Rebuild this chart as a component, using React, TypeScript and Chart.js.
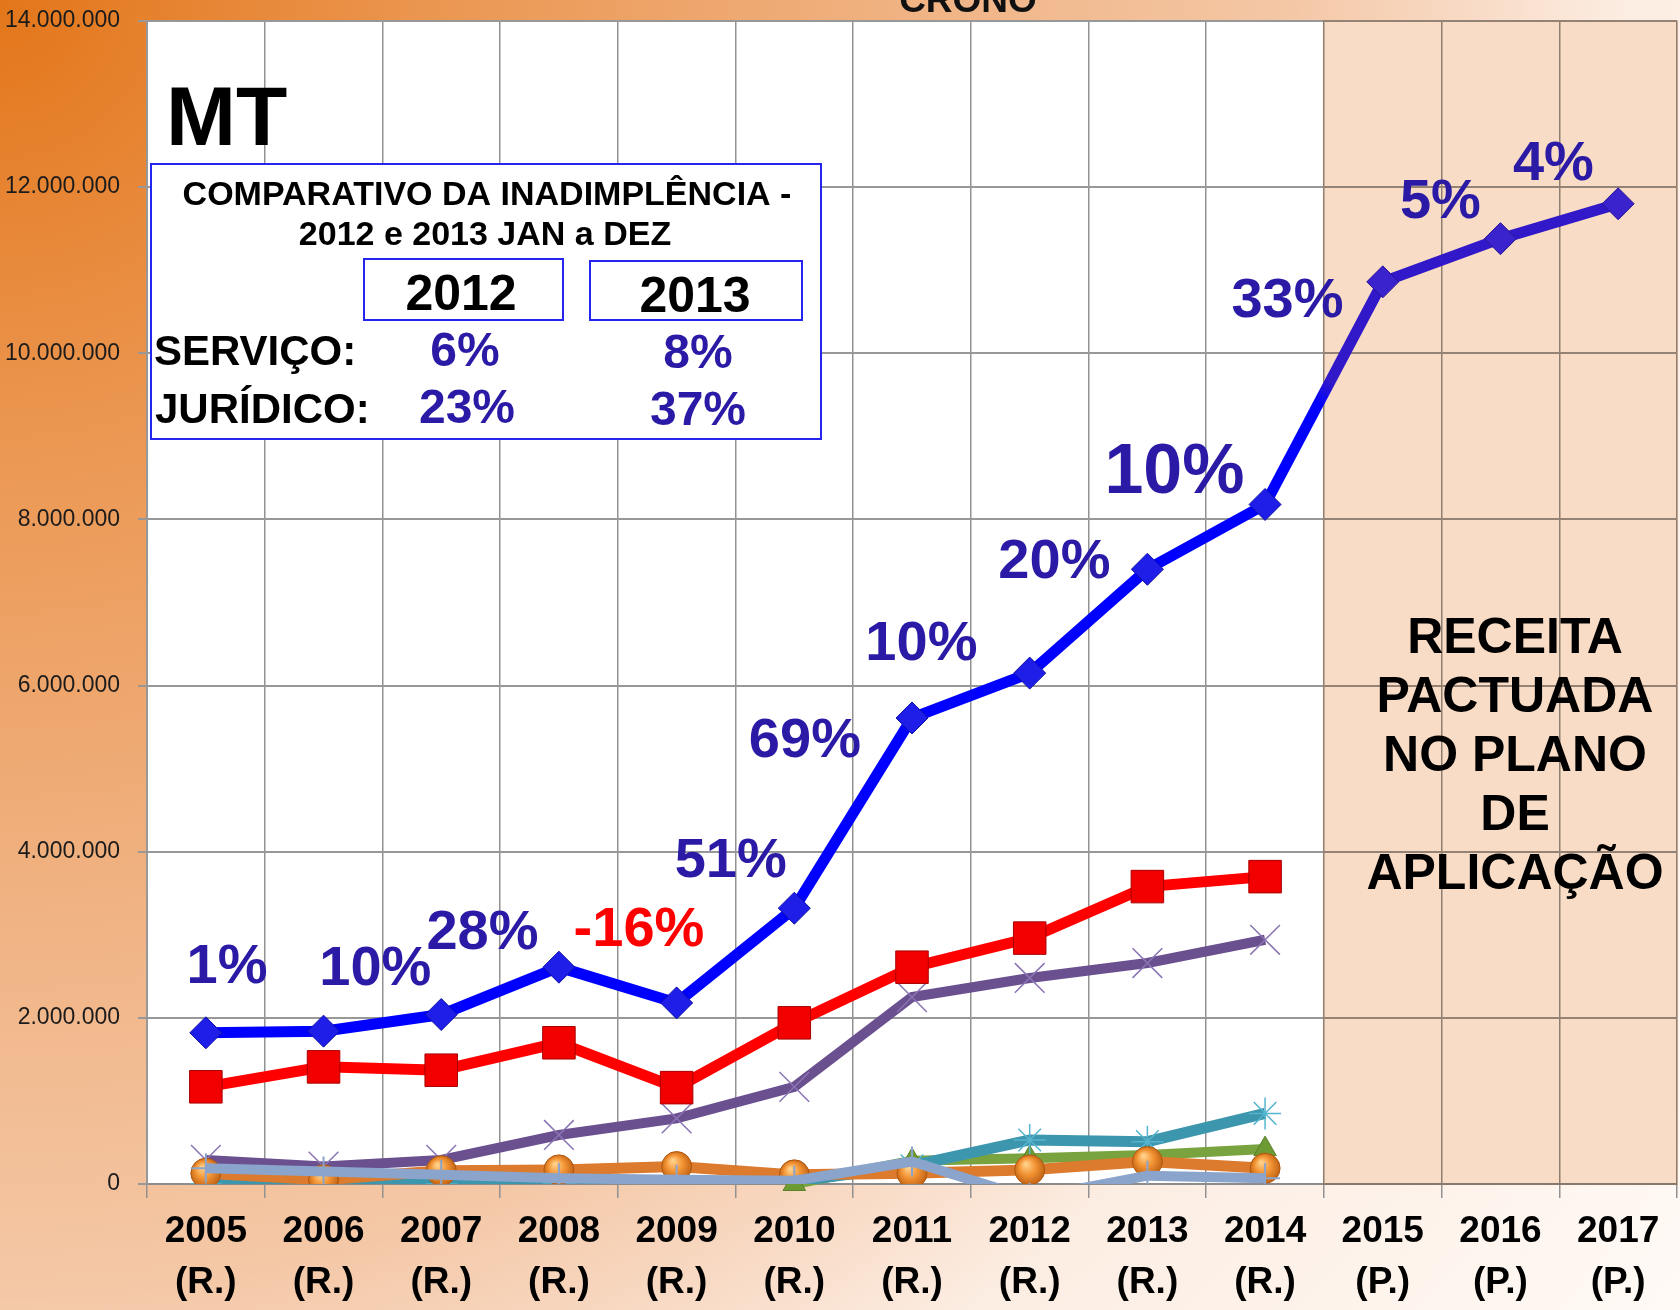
import React, { useEffect, useRef } from 'react';
import { Chart, registerables } from 'chart.js';

Chart.register(...registerables);

const FONT = '"Liberation Sans", Arial, Helvetica, sans-serif';

// ---- categories ----
const years = ['2005', '2006', '2007', '2008', '2009', '2010', '2011', '2012', '2013', '2014', '2015', '2016', '2017'];
const yearKinds = ['(R.)', '(R.)', '(R.)', '(R.)', '(R.)', '(R.)', '(R.)', '(R.)', '(R.)', '(R.)', '(P.)', '(P.)', '(P.)'];

// ---- y axis ----
const yMin = 0;
const yMax = 14000000;
const yStep = 2000000;

// ---- series values (R$) ----
const seriesBlue = [1820000, 1840000, 2040000, 2610000, 2180000, 3320000, 5610000, 6150000, 7400000, 8180000, 10860000, 11380000, 11800000];
const seriesRed = [1170000, 1410000, 1370000, 1700000, 1160000, 1940000, 2610000, 2960000, 3580000, 3700000, null, null, null];
const seriesGreen = [null, null, null, null, null, 0, 280000, 310000, 350000, 420000, null, null, null];
const seriesPurple = [290000, 210000, 290000, 590000, 790000, 1170000, 2250000, 2480000, 2660000, 2940000, null, null, null];
const seriesTeal = [0, 0, 0, 0, 0, 30000, 220000, 530000, 510000, 850000, null, null, null];
const seriesOrange = [130000, 50000, 160000, 170000, 210000, 110000, 130000, 170000, 270000, 190000, null, null, null];
const seriesLightBlue = [190000, 150000, 110000, 70000, 50000, 40000, 270000, -170000, 100000, 70000, null, null, null];

// ---- growth labels along the blue line (category position, value position) ----
const growthTexts = ['1%', '10%', '28%', '-16%', '51%', '69%', '10%', '20%', '10%', '33%', '5%', '4%'];
const growthAtIndex = [0.18, 1.44, 2.35, 3.68, 4.46, 5.09, 6.08, 7.21, 8.23, 9.19, 10.49, 11.45];
const growthAtValue = [2610000, 2580000, 3020000, 3050000, 3880000, 5330000, 6490000, 7480000, 8550000, 10620000, 11820000, 12270000];
const growthSizes = [56, 56, 56, 56, 56, 56, 56, 56, 70, 56, 56, 56];
const growthColors = ['#2A1AA6', '#2A1AA6', '#2A1AA6', '#FF0000', '#2A1AA6', '#2A1AA6', '#2A1AA6', '#2A1AA6', '#2A1AA6', '#2A1AA6', '#2A1AA6', '#2A1AA6'];

// ---- comparison box texts ----
const boxTitle = ['COMPARATIVO DA INADIMPLÊNCIA -', '2012 e 2013 JAN a DEZ'];
const boxYears = ['2012', '2013'];
const boxRows = ['SERVIÇO:', 'JURÍDICO:'];
const boxValues2012 = ['6%', '23%'];
const boxValues2013 = ['8%', '37%'];
const projectedNote = ['RECEITA', 'PACTUADA', 'NO PLANO', 'DE', 'APLICAÇÃO'];
const stateTitle = 'MT';
const topTitle = 'CRONO';
const firstProjectedIndex = 10;

function fmt(v: number) {
  return Math.round(v).toString().replace(/\B(?=(\d{3})+(?!\d))/g, '.');
}

function text(ctx: CanvasRenderingContext2D, s: string, x: number, y: number, font: string, color: string, align: CanvasTextAlign = 'center', baseline: CanvasTextBaseline = 'alphabetic') {
  ctx.font = font;
  ctx.fillStyle = color;
  ctx.textAlign = align;
  ctx.textBaseline = baseline;
  ctx.fillText(s, x, y);
}

const decorPlugin = {
  id: 'decor',
  beforeDraw(chart: any) {
    const { ctx, width, height, chartArea } = chart;
    ctx.save();
    const g = ctx.createRadialGradient(0, 0, 0, 0, 0, 2140);
    g.addColorStop(0, '#E3761A');
    g.addColorStop(0.2, '#EB9650');
    g.addColorStop(0.42, '#F0B282');
    g.addColorStop(0.6, '#F4C7A5');
    g.addColorStop(0.68, '#F8D9C3');
    g.addColorStop(0.76, '#FCEDE2');
    g.addColorStop(1, '#FFFAF6');
    ctx.fillStyle = g;
    ctx.fillRect(0, 0, width, height);
    ctx.fillStyle = '#FFFFFF';
    ctx.fillRect(chartArea.left, chartArea.top, chartArea.right - chartArea.left, chartArea.bottom - chartArea.top);
    ctx.restore();
  },
  beforeDatasetsDraw(chart: any) {
    const { ctx, chartArea, scales } = chart;
    const xs = scales.x;
    const x0 = (xs.getPixelForValue(firstProjectedIndex - 1) + xs.getPixelForValue(firstProjectedIndex)) / 2;
    ctx.save();
    ctx.globalCompositeOperation = 'multiply';
    ctx.fillStyle = '#F8DCC5';
    ctx.fillRect(x0 - 1, chartArea.top - 1, chartArea.right - x0 + 2, chartArea.bottom - chartArea.top + 2);
    ctx.restore();
  },
  afterDatasetsDraw(chart: any) {
    const { ctx, scales } = chart;
    const xs = scales.x;
    const ys = scales.y;
    ctx.save();
    // top (cut) title
    text(ctx, topTitle, 968, 12, `bold 37px ${FONT}`, '#111111');
    // state
    text(ctx, stateTitle, 166, 145, `bold 84px ${FONT}`, '#000000', 'left');
    // comparison box
    ctx.fillStyle = '#FFFFFF';
    ctx.fillRect(150, 163, 672, 277);
    ctx.strokeStyle = '#2525F0';
    ctx.lineWidth = 2;
    ctx.strokeRect(151, 164, 670, 275);
    ctx.strokeRect(364, 259, 199, 61);
    ctx.strokeRect(590, 261, 212, 59);
    text(ctx, boxTitle[0], 487, 205, `bold 34px ${FONT}`, '#000000');
    text(ctx, boxTitle[1], 485, 245, `bold 34px ${FONT}`, '#000000');
    text(ctx, boxYears[0], 461, 310, `bold 50px ${FONT}`, '#000000');
    text(ctx, boxYears[1], 695, 312, `bold 50px ${FONT}`, '#000000');
    text(ctx, boxRows[0], 154, 365, `bold 42px ${FONT}`, '#000000', 'left');
    text(ctx, boxRows[1], 155, 423, `bold 42px ${FONT}`, '#000000', 'left');
    text(ctx, boxValues2012[0], 465, 366, `bold 48px ${FONT}`, '#2A1AA6');
    text(ctx, boxValues2012[1], 467, 423, `bold 48px ${FONT}`, '#2A1AA6');
    text(ctx, boxValues2013[0], 698, 368, `bold 48px ${FONT}`, '#2A1AA6');
    text(ctx, boxValues2013[1], 698, 425, `bold 48px ${FONT}`, '#2A1AA6');
    // projected note
    projectedNote.forEach((s, i) => {
      text(ctx, s, 1515, 653 + i * 59, `bold 50px ${FONT}`, '#000000');
    });
    // growth labels
    growthTexts.forEach((s, i) => {
      const x = xs.getPixelForValue(growthAtIndex[i]);
      const y = ys.getPixelForValue(growthAtValue[i]);
      text(ctx, s, x, y, `bold ${growthSizes[i]}px ${FONT}`, growthColors[i], 'center', 'middle');
    });
    ctx.restore();
  },
};

function zeroPadding(scale: any) {
  scale.paddingLeft = 0;
  scale.paddingRight = 0;
  scale.paddingTop = 0;
  scale.paddingBottom = 0;
}

export default function App() {
  const canvasRef = useRef<HTMLCanvasElement | null>(null);

  useEffect(() => {
    const canvas = canvasRef.current;
    if (!canvas) return;
    const c2d = canvas.getContext('2d') as CanvasRenderingContext2D;

    const orangeBall = (c: any) => {
      const fallback = '#EE8A2A';
      if (c.raw === null || c.raw === undefined || !c.chart || !c.chart.scales || !c.chart.scales.x || !c.chart.scales.y) return fallback;
      const x = c.chart.scales.x.getPixelForValue(c.dataIndex);
      const y = c.chart.scales.y.getPixelForValue(c.raw);
      if (!Number.isFinite(x) || !Number.isFinite(y)) return fallback;
      const g = c2d.createRadialGradient(x - 4, y - 6, 1, x, y, 17);
      g.addColorStop(0, '#FFD08A');
      g.addColorStop(0.45, '#F39434');
      g.addColorStop(1, '#B85A10');
      return g;
    };

    const blueSegment = (c: any) => {
      if (c.p0DataIndex >= firstProjectedIndex) return '#3118C8';
      if (c.p1DataIndex === firstProjectedIndex) {
        const ok = [c.p0.x, c.p0.y, c.p1.x, c.p1.y].every((v: number) => Number.isFinite(v));
        if (!ok) return '#3118C8';
        const g = c2d.createLinearGradient(c.p0.x, c.p0.y, c.p1.x, c.p1.y);
        g.addColorStop(0, '#0000FF');
        g.addColorStop(0.45, '#0000FF');
        g.addColorStop(0.55, '#3118C8');
        g.addColorStop(1, '#3118C8');
        return g;
      }
      return undefined;
    };

    const chart = new Chart(canvas, {
      type: 'line',
      data: {
        labels: years.map((y, i) => [y, yearKinds[i]]),
        datasets: [
          {
            label: 'Série 1',
            data: seriesBlue,
            borderColor: '#0000FF',
            borderWidth: 11,
            pointStyle: 'rectRot',
            pointRadius: 16,
            pointBackgroundColor: seriesBlue.map((_, i) => (i >= firstProjectedIndex ? '#3A22CC' : '#1E1EE8')),
            pointBorderColor: seriesBlue.map((_, i) => (i >= firstProjectedIndex ? '#2A1496' : '#1010A8')),
            pointBorderWidth: 1,
            segment: { borderColor: blueSegment },
            order: 1,
          },
          {
            label: 'Série 2',
            data: seriesRed,
            borderColor: '#FF0000',
            borderWidth: 11,
            pointStyle: 'rect',
            pointRadius: 23,
            pointBackgroundColor: '#F20000',
            pointBorderColor: '#A80000',
            pointBorderWidth: 1,
            order: 2,
          },
          {
            label: 'Série 3',
            data: seriesGreen,
            borderColor: '#79A33F',
            borderWidth: 10,
            pointStyle: 'triangle',
            pointRadius: 13,
            pointBackgroundColor: '#6E9A33',
            pointBorderColor: '#5A8028',
            pointBorderWidth: 1,
            clip: { left: 30, right: 30, top: 0, bottom: 16 },
            order: 7,
          },
          {
            label: 'Série 4',
            data: seriesPurple,
            borderColor: '#6B5090',
            borderWidth: 10,
            pointStyle: 'crossRot',
            pointRadius: 21,
            pointBorderColor: '#8A74B4',
            pointBorderWidth: 1.5,
            order: 6,
          },
          {
            label: 'Série 5',
            data: seriesTeal,
            borderColor: '#3C96AD',
            borderWidth: 11,
            pointStyle: 'star',
            pointRadius: 16,
            pointBorderColor: '#55B4CF',
            pointBorderWidth: 1.5,
            order: 5,
          },
          {
            label: 'Série 6',
            data: seriesOrange,
            borderColor: '#DC7A2E',
            borderWidth: 11,
            pointStyle: 'circle',
            pointRadius: 15,
            pointBackgroundColor: orangeBall,
            pointBorderColor: '#B0580E',
            pointBorderWidth: 1,
            order: 4,
          },
          {
            label: 'Série 7',
            data: seriesLightBlue,
            borderColor: '#8AA4CB',
            borderWidth: 10,
            pointStyle: 'cross',
            pointRadius: 15,
            pointBorderColor: '#8AA4CB',
            pointBorderWidth: 2,
            order: 3,
          },
        ],
      },
      options: {
        responsive: false,
        animation: false,
        events: [],
        layout: { autoPadding: false, padding: { top: 21, right: 3, left: 0, bottom: 0 } },
        elements: { line: { tension: 0 } },
        plugins: {
          legend: { display: false },
          tooltip: { enabled: false },
          title: { display: false },
        },
        scales: {
          x: {
            type: 'category',
            offset: true,
            grid: { offset: true, color: '#929292', lineWidth: 1.5, tickLength: 14, drawTicks: true },
            border: { display: true, color: '#8C8C8C', width: 2 },
            ticks: {
              color: '#000000',
              padding: 8,
              maxRotation: 0,
              autoSkip: false,
              font: { family: FONT, size: 37, weight: 'bold', lineHeight: 1.38 },
            },
            afterFit: (scale: any) => {
              scale.height = 126;
              zeroPadding(scale);
            },
          },
          y: {
            min: yMin,
            max: yMax,
            grid: { color: '#989898', lineWidth: 2, tickLength: 9 },
            border: { display: true, color: '#989898', width: 2 },
            ticks: {
              stepSize: yStep,
              color: '#1B1B1B',
              padding: 18,
              font: { family: FONT, size: 23 },
              callback: (v: any) => fmt(Number(v)),
            },
            afterFit: (scale: any) => {
              scale.width = 147;
              zeroPadding(scale);
            },
          },
        },
      },
      plugins: [decorPlugin],
    } as any);

    return () => chart.destroy();
  }, []);

  return (
    <div style={{ position: 'fixed', left: 0, top: 0, width: 1680, height: 1310, overflow: 'hidden' }}>
      <canvas ref={canvasRef} width={1680} height={1310} style={{ display: 'block' }} />
    </div>
  );
}
